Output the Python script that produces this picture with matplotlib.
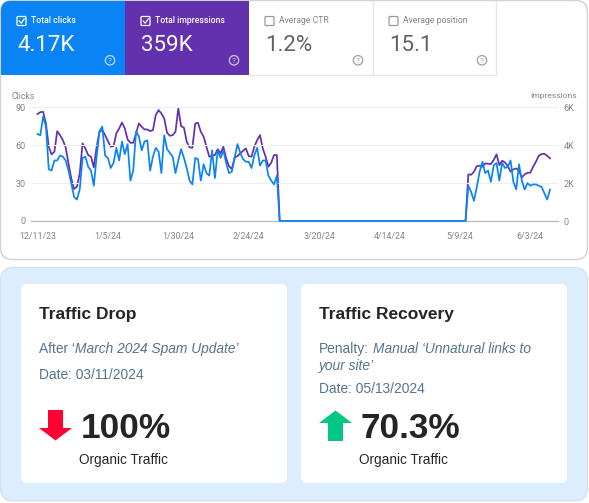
import matplotlib
matplotlib.use("Agg")
import matplotlib.pyplot as plt
import pandas as pd
from matplotlib.patches import Circle, FancyBboxPatch, Polygon, Rectangle

W, H = 589, 503

# daily values, 12/11/23 to 6/10/24
clicks = [
    69, 68, 83, 75, 41, 40, 48, 48, 52, 51, 48, 40, 30, 19, 17, 25, 50, 51, 43, 40,
    28, 51, 71, 75, 52, 50, 42, 46, 58, 48, 63, 53, 61, 32, 40, 71, 67, 56, 63, 64,
    40, 51, 58, 55, 38, 68, 57, 54, 51, 38, 48, 57, 50, 42, 32, 29, 50, 49, 32, 45,
    38, 36, 56, 34, 56, 50, 56, 46, 38, 39, 50, 61, 54, 49, 47, 47, 42, 52, 58, 44,
    48, 48, 36, 32, 29, 36,
    0, 0, 0, 0, 0, 0, 0, 0, 0, 0, 0, 0, 0, 0, 0, 0, 0, 0, 0, 0, 0, 0, 0, 0, 0, 0, 0,
    0, 0, 0, 0, 0, 0, 0, 0, 0, 0, 0, 0, 0, 0, 0, 0, 0, 0, 0, 0, 0, 0, 0, 0, 0, 0, 0,
    0, 0, 0, 0, 0, 0, 0, 0, 0, 0, 0, 0, 0,
    28, 23, 16, 27, 39, 47, 38, 40, 31, 44, 46, 32, 46, 42, 43, 48, 31, 25, 45, 32,
    25, 30, 28, 29, 29, 28, 27, 22, 17, 25,
]
impressions = [
    5650, 5755, 5770, 5155, 3925, 3520, 3660, 4750, 4540, 4275, 3890, 3045, 2250, 1690,
    1810, 2515, 4100, 3835, 3485, 3400, 2835, 3925, 4715, 4805, 4540, 4225, 3925, 3960,
    4630, 4890, 5210, 4890, 4310, 4135, 4135, 4630, 5155, 4980, 4840, 4840, 4750, 4805,
    5600, 5860, 5685, 5420, 4665, 4505, 4540, 4715, 5950, 5015, 4930, 4190, 3890, 3870,
    5155, 5190, 4715, 4455, 3925, 3400, 3450, 3485, 3800, 3570, 3925, 3310, 2900, 2745,
    3345, 3430, 3570, 3715, 3835, 3430, 3400, 3925, 4275, 4540, 3835, 3400, 2870, 3080,
    3485, 3485,
    0, 0, 0, 0, 0, 0, 0, 0, 0, 0, 0, 0, 0, 0, 0, 0, 0, 0, 0, 0, 0, 0, 0, 0, 0, 0, 0,
    0, 0, 0, 0, 0, 0, 0, 0, 0, 0, 0, 0, 0, 0, 0, 0, 0, 0, 0, 0, 0, 0, 0, 0, 0, 0, 0,
    0, 0, 0, 0, 0, 0, 0, 0, 0, 0, 0, 0, 0,
    2465, 2445, 2605, 2900, 2920, 2870, 3045, 3025, 3010, 3220, 3520, 2955, 3185, 3100,
    2900, 2605, 2730, 2780, 2660, 2305, 2465, 2550, 2550, 2870, 3130, 3450, 3540, 3555,
    3450, 3310,
]
tick_dates = ["2023-12-11", "2024-01-05", "2024-01-30", "2024-02-24",
              "2024-03-20", "2024-04-14", "2024-05-09", "2024-06-03"]
tick_labels = ["12/11/23", "1/5/24", "1/30/24", "2/24/24",
               "3/20/24", "4/14/24", "5/9/24", "6/3/24"]
clicks_ticks = [0, 30, 60, 90]
impr_ticks = [0, 2000, 4000, 6000]
impr_labels = ["0", "2K", "4K", "6K"]

tile_names = ["Total clicks", "Total impressions", "Average CTR", "Average position"]
tile_values = ["4.17K", "359K", "1.2%", "15.1"]

BLUE = "#0a84f5"
PURPLE = "#6330ae"
SANS = "Liberation Sans"
TOP = "Roboto"

dates = pd.date_range("2023-12-11", periods=len(clicks), freq="D")

fig = plt.figure(figsize=(W / 100, H / 100), dpi=100, facecolor="white")
bg = fig.add_axes([0, 0, 1, 1])
bg.set_xlim(0, W)
bg.set_ylim(H, 0)
bg.axis("off")


def rounded(x, y, w, h, r, fc, ec="none", lw=0, z=1):
    p = FancyBboxPatch((x + r, y + r), w - 2 * r, h - 2 * r,
                       boxstyle=f"round,pad={r},rounding_size={r}",
                       fc=fc, ec=ec, lw=lw, zorder=z)
    bg.add_patch(p)
    return p


# top card
outer = rounded(0.5, 0.5, 587, 259, 12, "white", "#cfd3d6", 1, z=1)

# coloured tiles, clipped to the card corners
for x, w, c in [(1, 124, BLUE), (125, 123.5, PURPLE)]:
    r = Rectangle((x, 1), w, 73.5, fc=c, ec="none", zorder=2)
    bg.add_patch(r)
    r.set_clip_path(outer)

bg.plot([248.5, 496], [74.5, 74.5], color="#e6e7e9", lw=1, zorder=2)
for x in [372.5, 495.5]:
    bg.plot([x, x], [1, 74], color="#e6e7e9", lw=1, zorder=2)

tile_x = [17, 141, 265, 389]
for i, (x, name, val) in enumerate(zip(tile_x, tile_names, tile_values)):
    on = i < 2
    fg = "white" if on else "#5f6368"
    bg.add_patch(FancyBboxPatch((x + 1, 17.5), 7, 7, boxstyle="round,pad=1,rounding_size=1",
                                fc="none", ec="white" if on else "#9a9a9a", lw=0.9, zorder=3))
    if on:
        bg.plot([x + 2.2, x + 4.2, x + 7.2], [21, 23.2, 19], color="white", lw=0.9, zorder=4)
    bg.text(x + 14, 20.7, name, color="white" if on else "#80868b", fontsize=6.2,
            fontweight="medium" if on else "normal", family=TOP, va="center", zorder=4)
    bg.text(x, 45, val, color=fg, fontsize=16, family=TOP, va="center", zorder=4)
    # help icon
    hx = x + 93
    hc = "#b9d9fb" if i == 0 else ("#d5c5ec" if i == 1 else "#9aa0a6")
    bg.add_patch(Circle((hx, 60.3), 4.7, fc="none", ec=hc, lw=0.9, zorder=4))
    bg.text(hx, 60.5, "?", color=hc, fontsize=6, family=TOP, ha="center", va="center", zorder=4)

bg.text(12, 96, "Clicks", color="#80868b", fontsize=6.3, family=TOP, va="center", zorder=4)
bg.text(577, 96, "Impressions", color="#80868b", fontsize=6.1, family=TOP, ha="right", va="center", zorder=4)

# chart
left, right, top, bottom = 31, 558, 107.5, 221
ax = fig.add_axes([left / W, 1 - bottom / H, (right - left) / W, (bottom - top) / H])
ax.patch.set_alpha(0)
ax2 = ax.twinx()

x0 = dates[0] - pd.Timedelta(days=(37.5 - left) / 2.816)
x1 = dates[0] + pd.Timedelta(days=(right - 37.5) / 2.816)
ax.set_xlim(x0, x1)
ax.set_ylim(0, 90)
ax2.set_ylim(0, 6000)

ax2.plot(dates, impressions, color=PURPLE, lw=1.25, zorder=3, clip_on=False)
ax.plot(dates, clicks, color=BLUE, lw=1.25, zorder=4, clip_on=False)
ax.set_zorder(ax2.get_zorder() + 1)

ax.set_xticks(pd.to_datetime(tick_dates))
ax.set_xticklabels(tick_labels, fontsize=6.3, color="#80868b", family=TOP)
ax.set_yticks(clicks_ticks)
ax.set_yticklabels([str(v) for v in clicks_ticks], fontsize=6.5, color="#80868b", family=TOP)
ax2.set_yticks(impr_ticks)
ax2.set_yticklabels(impr_labels, fontsize=6.5, color="#80868b", family=TOP)
ax.tick_params(axis="both", length=0)
ax.tick_params(axis="x", pad=8)
ax.tick_params(axis="y", pad=4)
ax2.tick_params(axis="y", length=0, pad=4)
ax.grid(axis="y", color="#eeeff0", lw=0.8)
ax.set_axisbelow(True)
for a in (ax, ax2):
    for s in a.spines.values():
        s.set_visible(False)
ax.spines["bottom"].set_visible(True)
ax.spines["bottom"].set_color("#b8bbbe")
ax.spines["bottom"].set_linewidth(0.9)

# lower panel
rounded(0.5, 267.5, 587, 233.5, 13, "#dceefd", "#cfe0ec", 0.8, z=1)
rounded(21, 284, 266, 199, 6, "white", z=2)
rounded(301, 284, 266, 199, 6, "white", z=2)

DARK = "#252525"
SLATE = "#55738c"


def card_text(x, y, s, **kw):
    bg.text(x, y, s, family=SANS, va="center", zorder=5, **kw)


card_text(39, 314, "Traffic Drop", color=DARK, fontsize=12.5, fontweight="bold")
card_text(39, 349, "After \u2018", color=SLATE, fontsize=9.9)
card_text(75, 349, "March 2024 Spam Update\u2019", color=SLATE, fontsize=9.9, style="italic")
card_text(39, 375, "Date: 03/11/2024", color=SLATE, fontsize=9.9)
card_text(81, 429, "100%", color=DARK, fontsize=25.4, fontweight="bold")
card_text(79, 460, "Organic Traffic", color=DARK, fontsize=9.8)

card_text(319, 314, "Traffic Recovery", color=DARK, fontsize=12.5, fontweight="bold")
card_text(319, 349, "Penalty:", color=SLATE, fontsize=9.9)
card_text(373, 349, "Manual \u2018Unnatural links to", color=SLATE, fontsize=9.9, style="italic")
card_text(319, 366, "your site\u2019", color=SLATE, fontsize=9.9, style="italic")
card_text(319, 389, "Date: 05/13/2024", color=SLATE, fontsize=9.9)
card_text(361, 429, "70.3%", color=DARK, fontsize=25.4, fontweight="bold")
card_text(359, 460, "Organic Traffic", color=DARK, fontsize=9.8)

# arrows
bg.add_patch(Polygon([(48, 410), (63, 410), (63, 428), (72, 428), (55.5, 440.5), (39, 428), (48, 428)],
                     fc="#ff0033", ec="none", zorder=5))
bg.add_patch(Polygon([(328, 441), (343, 441), (343, 423), (352, 423), (335.5, 410.5), (319, 423), (328, 423)],
                     fc="#00c781", ec="none", zorder=5))

fig.savefig("out.png", dpi=100)
